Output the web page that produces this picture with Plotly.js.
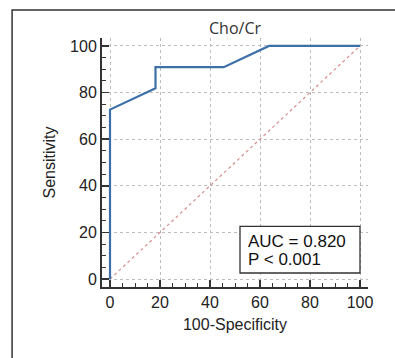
<!DOCTYPE html>
<html>
<head>
<meta charset="utf-8">
<script src="https://cdn.plot.ly/plotly-3.0.1.min.js"></script>
<style>html,body{margin:0;padding:0;background:#fff;}#chart{width:395px;height:358px;}</style>
</head>
<body>
<div id="chart"></div>
<script>
// ROC curve points (100-Specificity, Sensitivity)
const fpr = [0, 0, 18.2, 18.2, 45.5, 63.6, 100];
const tpr = [0, 72.7, 81.8, 90.9, 90.9, 100, 100];
const diagX = [0, 100];
const diagY = [0, 100];
const tickVals = [0, 20, 40, 60, 80, 100];
const chartTitle = 'Cho/Cr';
const xLabel = '100-Specificity';
const yLabel = 'Sensitivity';
const statsLines = ['AUC = 0.820', 'P < 0.001'];

const font = 'Arial, "Liberation Sans", sans-serif';
const traces = [
  {x: diagX, y: diagY, mode: 'lines', line: {color: '#d98c8c', width: 1.2, dash: 'dot'}, hoverinfo: 'skip'},
  {x: fpr, y: tpr, mode: 'lines', line: {color: '#3d6fa8', width: 2.2}, hoverinfo: 'skip'}
];
const axisCommon = {
  tickvals: tickVals, ticks: 'inside', ticklen: 7, tickwidth: 1.5, tickcolor: '#333',
  minor: {dtick: 5, ticks: 'inside', ticklen: 4, tickwidth: 1, tickcolor: '#333', showgrid: false},
  showline: true, linecolor: '#333', linewidth: 2,
  showgrid: true, gridcolor: '#bdbdbd', griddash: 'dot', gridwidth: 1,
  zeroline: false, tickfont: {family: font, size: 16, color: '#222'}, fixedrange: true
};
const layout = {
  width: 395, height: 358,
  margin: {l: 102, r: 27, t: 38, b: 71},
  paper_bgcolor: '#fff', plot_bgcolor: '#fff',
  showlegend: false,
  title: {text: chartTitle, x: 0.5, xref: 'paper', y: 1 - 28/358, yanchor: 'middle',
          font: {family: '"Open Sans", "Noto Sans", sans-serif', size: 16, color: '#333'}},
  xaxis: Object.assign({}, axisCommon, {range: [-3.2, 103.2],
          title: {text: xLabel, standoff: 9, font: {family: font, size: 16, color: '#222'}}}),
  yaxis: Object.assign({}, axisCommon, {range: [-3.4, 103.4],
          title: {text: yLabel, standoff: 10, font: {family: font, size: 16, color: '#222'}}}),
  shapes: [
    {type: 'rect', xref: 'paper', yref: 'paper', x0: -0.338, x1: 1.3, y0: -0.6, y1: 1.112,
     line: {color: '#333', width: 1.5}, layer: 'below'},
    {type: 'rect', xref: 'x', yref: 'y', x0: 52, x1: 100, y0: 2.6, y1: 22.6,
     line: {color: '#333', width: 1.3}, fillcolor: '#fff', layer: 'above'}
  ],
  annotations: [
    {text: statsLines[0], xref: 'x', yref: 'y', x: 54.3, y: 16.3, xanchor: 'left', yanchor: 'middle',
     align: 'left', showarrow: false, font: {family: font, size: 17, color: '#111'}},
    {text: statsLines[1], xref: 'x', yref: 'y', x: 54.3, y: 8.6, xanchor: 'left', yanchor: 'middle',
     align: 'left', showarrow: false, font: {family: font, size: 17, color: '#111'}}
  ]
};
Plotly.newPlot('chart', traces, layout, {displayModeBar: false, staticPlot: true});
</script>
</body>
</html>
